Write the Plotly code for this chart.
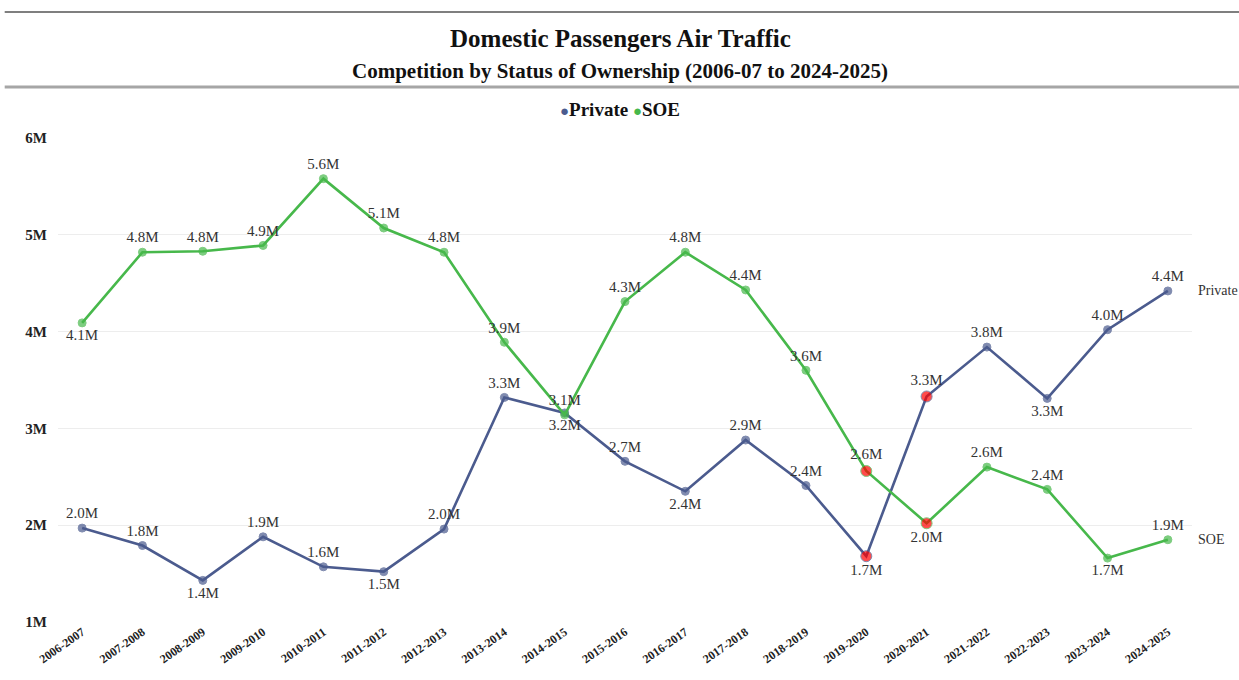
import plotly.graph_objects as go

# Fiscal years on the category axis
years = [
    "2006-2007", "2007-2008", "2008-2009", "2009-2010", "2010-2011",
    "2011-2012", "2012-2013", "2013-2014", "2014-2015", "2015-2016",
    "2016-2017", "2017-2018", "2018-2019", "2019-2020", "2020-2021",
    "2021-2022", "2022-2023", "2023-2024", "2024-2025",
]

# Domestic passengers, millions
private = [1.97, 1.79, 1.43, 1.88, 1.57, 1.52, 1.96, 3.32, 3.16, 2.66,
           2.35, 2.88, 2.41, 1.68, 3.33, 3.84, 3.31, 4.02, 4.42]
soe = [4.09, 4.82, 4.83, 4.89, 5.58, 5.07, 4.82, 3.89, 3.14, 4.31,
       4.82, 4.43, 3.60, 2.56, 2.02, 2.60, 2.37, 1.66, 1.85]

# Pandemic years highlighted in red
highlight_years = ["2019-2020", "2020-2021"]

# Where each value label sits relative to its point
private_label_pos = ["top", "top", "bottom", "top", "top", "bottom", "top", "top",
                     "bottom", "top", "bottom", "top", "top", "bottom", "top", "top",
                     "bottom", "top", "top"]
soe_label_pos = ["bottom", "top", "top", "top", "top", "top", "top", "top", "top",
                 "top", "top", "top", "top", "top", "bottom", "top", "top",
                 "bottom", "top"]

y_ticks = [1, 2, 3, 4, 5, 6]
y_tick_text = ["1M", "2M", "3M", "4M", "5M", "6M"]

PRIVATE_COLOR = "#4B5B8E"
SOE_COLOR = "#47B84B"
HIGHLIGHT = "#FF0000"
SERIF = "Liberation Serif, Times New Roman, serif"


def series_trace(name, values, positions, color):
    colors = [HIGHLIGHT if y in highlight_years else color for y in years]
    sizes = [11 if y in highlight_years else 8 for y in years]
    return go.Scatter(
        x=years,
        y=values,
        name=name,
        mode="lines+markers+text",
        line=dict(color=color, width=2.6),
        marker=dict(color=colors, size=sizes),
        text=[f"{v:.1f}M" for v in values],
        textposition=[p + " center" for p in positions],
        textfont=dict(family=SERIF, size=15, color="#333333"),
        showlegend=False,
        cliponaxis=False,
        hovertemplate="%{x}: %{y:.2f}M<extra>" + name + "</extra>",
    )


fig = go.Figure()
fig.add_trace(series_trace("Private", private, private_label_pos, PRIVATE_COLOR))
fig.add_trace(series_trace("SOE", soe, soe_label_pos, SOE_COLOR))

# Series names at the right end of each line
for name, values in (("Private", private), ("SOE", soe)):
    fig.add_annotation(
        x=years[-1], y=values[-1], xref="x", yref="y",
        text=name, showarrow=False, xanchor="left", yanchor="middle",
        xshift=28, font=dict(family=SERIF, size=14, color="#333333"),
    )

# Title block
fig.add_annotation(
    x=0.4956, y=1.2066, xref="paper", yref="paper",
    text="<b>Domestic Passengers Air Traffic</b>", showarrow=False,
    xanchor="center", yanchor="middle",
    font=dict(family=SERIF, size=25, color="#111111"),
)
fig.add_annotation(
    x=0.4956, y=1.1384, xref="paper", yref="paper",
    text="<b>Competition by Status of Ownership (2006-07 to 2024-2025)</b>",
    showarrow=False, xanchor="center", yanchor="middle",
    font=dict(family=SERIF, size=21, color="#111111"),
)

# Legend
fig.add_annotation(
    x=0.4956, y=1.0579, xref="paper", yref="paper",
    text=(f"<span style='color:{PRIVATE_COLOR};font-size:15px'>●</span><b>Private</b> "
          f"<span style='color:{SOE_COLOR};font-size:15px'>●</span><b>SOE</b>"),
    showarrow=False, xanchor="center", yanchor="middle",
    font=dict(family=SERIF, size=19, color="#111111"),
)

# Rules above and below the title block
fig.add_shape(type="line", xref="paper", yref="paper",
              x0=-0.047, x1=1.05, y0=1.2603, y1=1.2603,
              line=dict(color="#555555", width=1.5))
fig.add_shape(type="line", xref="paper", yref="paper",
              x0=-0.047, x1=1.05, y0=1.1054, y1=1.1054,
              line=dict(color="#A6A6A6", width=3))

fig.update_layout(
    width=1239,
    height=680,
    margin=dict(l=58, r=47, t=138, b=58),
    paper_bgcolor="white",
    plot_bgcolor="white",
    font=dict(family=SERIF, color="#333333"),
    xaxis=dict(
        type="category",
        range=[-0.4, 18.4],
        showgrid=False,
        showline=False,
        ticks="",
        tickangle=-35,
        tickfont=dict(family=SERIF, size=12, color="#222222", weight="bold"),
        fixedrange=True,
    ),
    yaxis=dict(
        range=[1, 6],
        tickvals=y_ticks,
        ticktext=y_tick_text,
        showgrid=True,
        gridcolor="#EDEDED",
        gridwidth=1,
        zeroline=False,
        showline=False,
        ticks="",
        ticklabelstandoff=10,
        tickfont=dict(family=SERIF, size=15, color="#222222", weight="bold"),
        fixedrange=True,
    ),
)

fig.write_html("out.html")
